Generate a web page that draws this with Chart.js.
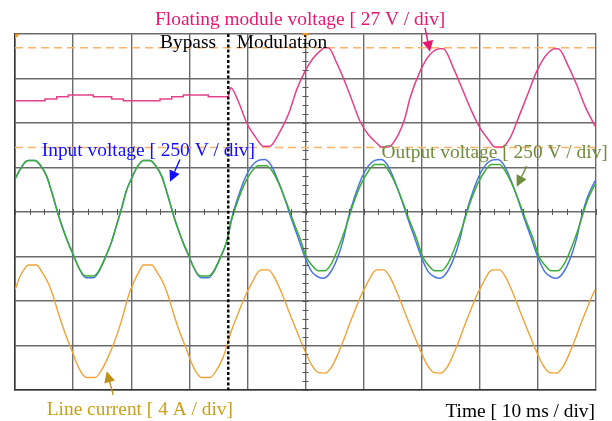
<!DOCTYPE html>
<html><head><meta charset="utf-8">
<script src="https://cdn.jsdelivr.net/npm/chart.js@4/dist/chart.umd.min.js"></script>
<style>html,body{margin:0;padding:0;background:#fff}canvas{display:block}</style>
</head><body>
<canvas id="c" width="612" height="421"></canvas>
<script>
// Time in ms (10 ms / div); values in screen divisions (centre line = 0)
const bypassT = [0,0.86,1.72,2.29,3.44,4.30,5.46,6.02,6.88,7.45,8.31,9.17,10.03,10.90,11.76,12.34,13.48,14.34,15.49,16.64,17.50,18.36,19.23,20.09,20.95,22.09,23.24,24.10,25.26,25.82,26.68,27.25,28.11,28.97,29.83,30.70,31.56,32.14,33.28,34.14,35.29,36.44];
const outputBypassV = [0.74,0.95,1.12,1.16,1.16,1.06,0.80,0.58,0.20,-0.06,-0.40,-0.70,-0.96,-1.23,-1.41,-1.44,-1.44,-1.34,-1.04,-0.66,-0.29,0.09,0.50,0.76,0.99,1.16,1.16,1.06,0.80,0.58,0.20,-0.06,-0.40,-0.70,-0.96,-1.23,-1.41,-1.44,-1.44,-1.34,-1.04,-0.66];
const inputBypassV = [0.74,0.95,1.12,1.16,1.16,1.06,0.80,0.58,0.20,-0.06,-0.40,-0.70,-0.96,-1.23,-1.43,-1.48,-1.48,-1.36,-1.04,-0.66,-0.29,0.09,0.50,0.76,0.99,1.16,1.16,1.06,0.80,0.58,0.20,-0.06,-0.40,-0.70,-0.96,-1.23,-1.43,-1.48,-1.48,-1.36,-1.04,-0.66];

const outputModT = [37.30,38.43,39.59,40.74,41.88,43.32,44.46,45.61,46.76,47.90,49.05,50.09,51.07,52.20,53.36,54.51,55.65,56.80,57.35,58.48,59.64,60.79,61.93,63.37,64.51,65.66,66.81,67.95,69.10,70.14,71.12,72.25,73.41,74.56,75.70,76.85,77.40,78.53,79.69,80.84,81.98,83.42,84.56,85.71,86.86,88.00,89.15,90.19,91.17,92.30,93.46,94.61,95.75,96.90,97.45,98.58,99.83];
const outputModV = [-0.17,0.28,0.65,0.91,1.04,1.04,0.88,0.58,0.20,-0.21,-0.59,-1.00,-1.19,-1.32,-1.32,-1.15,-0.81,-0.40,-0.17,0.28,0.65,0.91,1.07,1.07,0.88,0.58,0.20,-0.21,-0.59,-1.00,-1.19,-1.32,-1.32,-1.15,-0.81,-0.40,-0.17,0.28,0.65,0.91,1.07,1.07,0.88,0.58,0.20,-0.21,-0.59,-1.00,-1.19,-1.32,-1.32,-1.15,-0.81,-0.40,-0.17,0.28,0.62];

const inputModT = [37.30,38.43,39.59,40.74,41.88,43.03,44.17,45.32,46.47,47.62,48.76,50.09,51.07,52.20,53.06,54.22,55.37,56.51,57.35,58.48,59.64,60.79,61.93,63.08,64.22,65.37,66.52,67.67,68.81,70.14,71.12,72.25,73.11,74.27,75.42,76.56,77.40,78.53,79.69,80.84,81.98,83.13,84.27,85.42,86.57,87.72,88.86,90.19,91.17,92.30,93.16,94.32,95.47,96.61,97.45,98.58,99.83];
const inputModV = [-0.14,0.35,0.76,1.03,1.16,1.18,1.03,0.69,0.28,-0.17,-0.59,-1.08,-1.34,-1.46,-1.49,-1.37,-1.08,-0.62,-0.14,0.35,0.76,1.03,1.16,1.18,1.03,0.69,0.28,-0.17,-0.59,-1.08,-1.34,-1.46,-1.49,-1.37,-1.08,-0.62,-0.14,0.35,0.76,1.03,1.16,1.18,1.03,0.69,0.28,-0.17,-0.59,-1.08,-1.34,-1.46,-1.49,-1.37,-1.08,-0.62,-0.14,0.35,0.70];

const currentBypassT = [0,0.86,1.72,2.29,3.73,4.60,5.73,6.60,7.45,8.61,9.76,10.62,11.48,12.34,13.77,14.92,16.06,17.21,18.36,19.50,20.36,21.51,22.09,23.53,24.40,25.53,26.40,27.25,28.41,29.56,30.42,31.28,32.14,33.57,34.72,35.86];
const currentBypassV = [-1.75,-1.45,-1.26,-1.19,-1.19,-1.34,-1.60,-1.90,-2.27,-2.72,-3.10,-3.40,-3.62,-3.72,-3.72,-3.55,-3.25,-2.88,-2.43,-1.90,-1.60,-1.30,-1.19,-1.19,-1.34,-1.60,-1.90,-2.27,-2.72,-3.10,-3.40,-3.62,-3.72,-3.72,-3.55,-3.25];
const currentModT = [37.30,38.43,39.59,40.74,41.88,42.46,43.60,44.75,45.90,47.04,48.19,49.35,50.21,51.07,52.20,53.36,54.51,55.65,56.80,57.20,58.33,59.49,60.64,61.78,62.36,63.50,64.65,65.80,66.94,68.09,69.25,70.11,70.97,72.10,73.26,74.41,75.55,76.70,77.10,78.23,79.39,80.54,81.68,82.26,83.40,84.55,85.70,86.84,87.99,89.15,90.01,90.87,92.00,93.16,94.31,95.45,96.60,97.00,98.13,99.29,99.83];
const currentModV = [-2.65,-2.27,-1.90,-1.60,-1.34,-1.30,-1.30,-1.49,-1.82,-2.20,-2.58,-2.95,-3.21,-3.44,-3.61,-3.62,-3.48,-3.17,-2.80,-2.65,-2.27,-1.90,-1.60,-1.34,-1.30,-1.30,-1.49,-1.82,-2.20,-2.58,-2.95,-3.21,-3.44,-3.61,-3.62,-3.48,-3.17,-2.80,-2.65,-2.27,-1.90,-1.60,-1.34,-1.30,-1.30,-1.49,-1.82,-2.20,-2.58,-2.95,-3.21,-3.44,-3.61,-3.62,-3.48,-3.17,-2.80,-2.65,-2.27,-1.90,-1.75];

const floatBypassT = [0,5.16,7.18,9.17,13.48,16.64,18.64,24.96,26.97,28.97,33.27,36.71];
const floatBypassV = [2.50,2.54,2.59,2.63,2.59,2.54,2.50,2.54,2.59,2.63,2.59,2.59];
const floatModT = [36.71,37.13,38.43,39.88,41.31,42.74,43.89,45.32,47.04,48.49,49.91,51.34,52.79,53.36,53.92,55.37,56.51,57.95,59.38,60.81,62.25,63.12,64.25,65.97,67.13,67.99,69.71,71.43,73.15,73.72,75.44,77.16,78.61,80.03,81.46,82.62,83.77,85.20,86.63,88.35,89.79,91.51,92.94,93.51,95.23,96.68,98.11,99.83];
const floatModV = [2.59,2.79,2.49,2.00,1.70,1.48,1.48,1.74,2.19,2.75,3.16,3.46,3.65,3.69,3.69,3.35,3.01,2.53,2.04,1.74,1.55,1.46,1.46,1.74,2.12,2.56,3.16,3.54,3.67,3.67,3.24,2.71,2.26,1.89,1.63,1.46,1.46,1.66,2.11,2.68,3.16,3.54,3.67,3.67,3.28,2.86,2.38,1.93];

const refLevels = [3.69, 1.45];       // orange dashed cursor levels
const modeSwitchT = 36.71;            // bypass -> modulation instant
const timeRange = [0, 100];
const divRange = [-4, 4];

const zip = (t, v) => t.map((x, i) => ({x: x, y: v[i]}));

const C_PINK = '#e4418a', C_BLUE = '#4a74e0', C_GREEN = '#3aae36', C_ORANGE = '#f0a236', C_REF = '#f9b36a';

const trace = (data, color, extra) => Object.assign({
  data: data, borderColor: color, borderWidth: 1.5, pointRadius: 0,
  fill: false, cubicInterpolationMode: 'monotone'
}, extra || {});

const datasets = [
  trace(zip(floatBypassT, floatBypassV), C_PINK, {stepped: 'before', order: 1}),
  trace(zip(floatModT, floatModV), C_PINK, {order: 1}),
  trace(zip(bypassT.concat(outputModT), outputBypassV.concat(outputModV)), C_GREEN, {order: 2}),
  trace(zip(bypassT.concat(inputModT), inputBypassV.concat(inputModV)), C_BLUE, {order: 3}),
  trace(zip(currentBypassT.concat(currentModT), currentBypassV.concat(currentModV)), C_ORANGE, {order: 2, borderWidth: 1.4}),
];
refLevels.forEach(l => datasets.push({
  data: [{x: timeRange[0], y: l}, {x: timeRange[1], y: l}], borderColor: C_REF,
  borderWidth: 1.6, borderDash: [8, 5], pointRadius: 0, order: 5
}));
datasets.push({
  data: [{x: modeSwitchT, y: divRange[1]}, {x: modeSwitchT, y: divRange[0]}],
  borderColor: '#000', borderWidth: 2.4, borderDash: [3, 2.2], pointRadius: 0, order: 0
});

const SERIF = '19.4px "Liberation Serif", "Times New Roman", serif';
const labels = [
  {text: 'Floating module voltage [ 27 V / div]', t: 24.1, v: 4.21, color: '#e6176e', align: 'left'},
  {text: 'Bypass', t: 24.96, v: 3.69, color: '#000', align: 'left'},
  {text: 'Modulation', t: 38.16, v: 3.69, color: '#000', align: 'left'},
  {text: 'Input voltage [ 250 V / div]', t: 4.6, v: 1.266, color: '#1010ff', align: 'left'},
  {text: 'Output voltage [ 250 V / div]', t: 63.1, v: 1.214, color: '#6f8c3c', align: 'left'},
  {text: 'Line current [ 4 A / div]', t: 5.46, v: -4.56, color: '#c9a018', align: 'left'},
  {text: 'Time [ 10 ms / div]', t: 99.83, v: -4.60, color: '#000', align: 'right'}
];
const arrows = [
  {from: [70.57, 4.14], to: [71.43, 3.60], color: '#e6176e'},
  {from: [28.4, 1.18], to: [26.68, 0.68], color: '#1010ff'},
  {from: [88.07, 1.03], to: [86.35, 0.57], color: '#6f8c3c'},
  {from: [16.92, -4.11], to: [15.78, -3.58], color: '#c09015'}
];

const scopePlugin = {
  id: 'scope',
  afterDatasetsDraw(chart) {
    const ctx = chart.ctx, xs = chart.scales.x, ys = chart.scales.y;
    ctx.save();
    ctx.strokeStyle = '#555';
    ctx.lineWidth = 1;
    const y0 = ys.getPixelForValue(0), x0 = xs.getPixelForValue(50);
    ctx.beginPath();
    for (let t = timeRange[0]; t <= timeRange[1] + 1e-6; t += 2.5) {
      const px = Math.round(xs.getPixelForValue(t)) + 0.5;
      ctx.moveTo(px, y0 - 3); ctx.lineTo(px, y0 + 3);
    }
    for (let v = divRange[0]; v <= divRange[1] + 1e-6; v += 0.2) {
      const py = Math.round(ys.getPixelForValue(v)) + 0.5;
      ctx.moveTo(x0 - 3, py); ctx.lineTo(x0 + 3, py);
    }
    ctx.stroke();
    ctx.fillStyle = '#f39a2a';
    const top = ys.getPixelForValue(divRange[1]);
    const lx = xs.getPixelForValue(timeRange[0]);
    ctx.beginPath(); ctx.moveTo(lx, top); ctx.lineTo(lx + 5, top); ctx.lineTo(lx, top + 5); ctx.closePath(); ctx.fill();
    ctx.beginPath(); ctx.moveTo(x0 - 3.5, top - 1); ctx.lineTo(x0 + 3.5, top - 1); ctx.lineTo(x0, top + 4); ctx.closePath(); ctx.fill();
    ctx.restore();
  },
  afterDraw(chart) {
    const ctx = chart.ctx, xs = chart.scales.x, ys = chart.scales.y;
    ctx.save();
    ctx.font = SERIF;
    ctx.textBaseline = 'alphabetic';
    labels.forEach(l => {
      ctx.fillStyle = l.color;
      ctx.textAlign = l.align;
      ctx.fillText(l.text, xs.getPixelForValue(l.t), ys.getPixelForValue(l.v));
    });
    arrows.forEach(a => {
      const x1 = xs.getPixelForValue(a.from[0]), y1 = ys.getPixelForValue(a.from[1]);
      const x2 = xs.getPixelForValue(a.to[0]), y2 = ys.getPixelForValue(a.to[1]);
      const ang = Math.atan2(y2 - y1, x2 - x1);
      const hl = 11, hw = 5.5;
      const bx = x2 - hl * Math.cos(ang), by = y2 - hl * Math.sin(ang);
      ctx.strokeStyle = a.color; ctx.fillStyle = a.color; ctx.lineWidth = 1.4;
      ctx.beginPath(); ctx.moveTo(x1, y1); ctx.lineTo(bx, by); ctx.stroke();
      ctx.beginPath();
      ctx.moveTo(x2, y2);
      ctx.lineTo(bx + hw * Math.sin(ang), by - hw * Math.cos(ang));
      ctx.lineTo(bx - hw * Math.sin(ang), by + hw * Math.cos(ang));
      ctx.closePath(); ctx.fill();
    });
    ctx.restore();
  }
};

new Chart(document.getElementById('c'), {
  type: 'line',
  data: {datasets: datasets},
  options: {
    responsive: false, animation: false, devicePixelRatio: 1,
    layout: {padding: {left: 15, top: 34, right: 16, bottom: 31}},
    plugins: {legend: {display: false}, tooltip: {enabled: false}},
    scales: {
      x: {type: 'linear', min: timeRange[0], max: timeRange[1],
          ticks: {display: false, stepSize: 10},
          grid: {color: '#6b6b6b', lineWidth: 1.4, drawTicks: false},
          border: {display: true, color: '#333', width: 1.5}},
      y: {type: 'linear', min: divRange[0], max: divRange[1],
          ticks: {display: false, stepSize: 1},
          grid: {color: '#6b6b6b', lineWidth: 1.4, drawTicks: false},
          border: {display: true, color: '#333', width: 1.5}}
    }
  },
  plugins: [scopePlugin]
});
</script>
</body></html>
